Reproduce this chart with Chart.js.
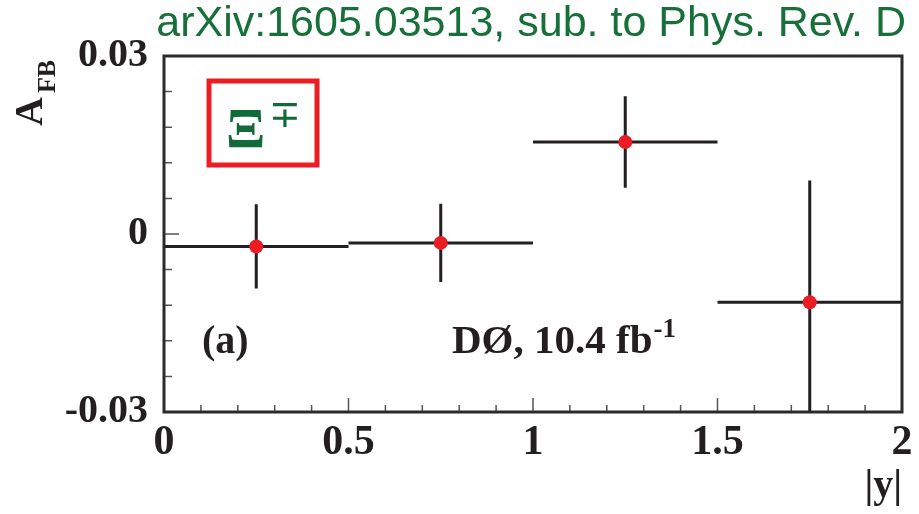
<!DOCTYPE html>
<html>
<head>
<meta charset="utf-8">
<script src="https://cdn.jsdelivr.net/npm/chart.js@4/dist/chart.umd.min.js"></script>
<style>
  html, body { margin: 0; padding: 0; background: #fff; }
  #wrap { width: 919px; height: 514px; }
</style>
</head>
<body>
<div id="wrap"><canvas id="afb" width="919" height="514"></canvas></div>
<script>
// Forward-backward asymmetry of Xi-/+ production vs |y|, four bins.
const binCenters = [0.25, 0.75, 1.25, 1.75];
const binHalfWidths = [0.25, 0.25, 0.25, 0.25];
const afbValues = [-0.0021, -0.0015, 0.0155, -0.0115];
const afbErrors = [0.0071, 0.0066, 0.0077, 0.0205];

const xMajorLabels = ['0', '0.5', '1', '1.5', '2'];
const yMajorLabels = ['-0.03', '0', '0.03'];

const TITLE = 'arXiv:1605.03513, sub. to Phys. Rev. D';
const PANEL = '(a)';
const LUMI = 'DØ, 10.4 fb';
const LUMI_SUP = '-1';

const SERIF = "'Liberation Serif', 'Times New Roman', serif";
const SANS = "'Liberation Sans', Arial, sans-serif";
const INK = '#231f20';
const GREEN = '#17703a';
const RED = '#ec1c24';

const near = (a, b) => Math.abs(a - b) < 1e-9;

// horizontal bin-width bars and vertical stat bars, under the markers
const errorBars = {
  id: 'afb-error-bars',
  beforeDatasetsDraw(chart) {
    const { ctx, chartArea: a, scales: { x, y } } = chart;
    ctx.save();
    ctx.beginPath();
    ctx.rect(a.left, a.top, a.right - a.left, a.bottom - a.top);
    ctx.clip();
    ctx.strokeStyle = INK;
    ctx.lineWidth = 3;
    ctx.lineCap = 'butt';
    binCenters.forEach((c, i) => {
      const py = y.getPixelForValue(afbValues[i]);
      const px = x.getPixelForValue(c);
      ctx.beginPath();
      ctx.moveTo(x.getPixelForValue(c - binHalfWidths[i]), py);
      ctx.lineTo(x.getPixelForValue(c + binHalfWidths[i]), py);
      ctx.moveTo(px, y.getPixelForValue(afbValues[i] + afbErrors[i]));
      ctx.lineTo(px, y.getPixelForValue(afbValues[i] - afbErrors[i]));
      ctx.stroke();
    });
    ctx.restore();
  }
};

// frame, inward ticks and the text annotations
const frame = {
  id: 'afb-frame',
  afterDraw(chart) {
    const { ctx, chartArea: a, scales: { x, y } } = chart;
    ctx.save();

    ctx.strokeStyle = '#555';
    ctx.lineWidth = 1.5;
    ctx.beginPath();
    x.ticks.forEach((t) => {
      const px = x.getPixelForValue(t.value);
      const major = near(Math.round(t.value * 2) / 2, t.value);
      ctx.moveTo(px, a.bottom);
      ctx.lineTo(px, a.bottom - (major ? 14 : 7));
    });
    y.ticks.forEach((t) => {
      const py = y.getPixelForValue(t.value);
      const major = near(t.value, 0);
      ctx.moveTo(a.left, py);
      ctx.lineTo(a.left + (major ? 15 : 8), py);
    });
    ctx.stroke();

    ctx.strokeStyle = '#2b2b2b';
    ctx.lineWidth = 3;
    ctx.strokeRect(a.left, a.top, a.right - a.left, a.bottom - a.top);

    // title
    ctx.fillStyle = GREEN;
    ctx.font = `43px ${SANS}`;
    ctx.textAlign = 'right';
    ctx.textBaseline = 'alphabetic';
    ctx.fillText(TITLE, 906, 36);

    // particle box
    ctx.strokeStyle = RED;
    ctx.lineWidth = 5;
    ctx.strokeRect(209, 81, 108, 84);
    ctx.fillStyle = '#12693a';
    ctx.textAlign = 'left';
    ctx.font = `bold 58px ${SERIF}`;
    ctx.fillText('Ξ', 226, 148);
    ctx.font = `38px 'DejaVu Sans', sans-serif`;
    ctx.fillText('∓', 269, 127);

    // panel and luminosity labels
    ctx.fillStyle = INK;
    ctx.font = `bold 40px ${SERIF}`;
    ctx.fillText(PANEL, 202, 353);
    ctx.font = `bold 41px ${SERIF}`;
    ctx.fillText(LUMI, 452, 353);
    const w = ctx.measureText(LUMI).width;
    ctx.font = `bold 27px ${SERIF}`;
    ctx.fillText(LUMI_SUP, 452 + w + 1, 337);

    // x title
    ctx.font = `bold 40px ${SERIF}`;
    ctx.textAlign = 'right';
    ctx.fillText('|y|', 902, 497);

    // y title, rotated
    ctx.translate(42, 126);
    ctx.rotate(-Math.PI / 2);
    ctx.textAlign = 'left';
    ctx.font = `bold 40px ${SERIF}`;
    ctx.fillText('A', 0, 0);
    const aw = ctx.measureText('A').width;
    ctx.font = `bold 26px ${SERIF}`;
    ctx.fillText('FB', aw + 4, 13);

    ctx.restore();
  }
};

new Chart(document.getElementById('afb'), {
  type: 'scatter',
  data: {
    datasets: [{
      data: binCenters.map((c, i) => ({ x: c, y: afbValues[i] })),
      pointRadius: 7,
      pointHoverRadius: 7,
      pointBackgroundColor: RED,
      pointBorderWidth: 0,
      borderWidth: 0
    }]
  },
  options: {
    responsive: false,
    devicePixelRatio: 1,
    animation: false,
    events: [],
    layout: { padding: { top: 56, right: 17, left: 0, bottom: 0 } },
    plugins: { legend: { display: false }, tooltip: { enabled: false } },
    scales: {
      x: {
        type: 'linear',
        min: 0,
        max: 2,
        grid: { display: false, drawTicks: false },
        border: { display: false },
        afterFit: (s) => { s.height = 102; },
        ticks: {
          stepSize: 0.1,
          autoSkip: false,
          maxRotation: 0,
          padding: 6,
          color: INK,
          font: { family: SERIF, size: 42, weight: 'bold' },
          callback: (v) => {
            const k = Math.round(v * 2);
            return near(k / 2, v) ? xMajorLabels[k] : '';
          }
        }
      },
      y: {
        type: 'linear',
        min: -0.03,
        max: 0.03,
        grid: { display: false, drawTicks: false },
        border: { display: false },
        afterFit: (s) => { s.width = 164; },
        ticks: {
          stepSize: 0.006,
          autoSkip: false,
          padding: 16,
          color: INK,
          font: { family: SERIF, size: 40, weight: 'bold' },
          callback: (v) => {
            const k = Math.round(v / 0.03);
            return near(k * 0.03, v) ? yMajorLabels[k + 1] : '';
          }
        }
      }
    }
  },
  plugins: [errorBars, frame]
});
</script>
</body>
</html>
